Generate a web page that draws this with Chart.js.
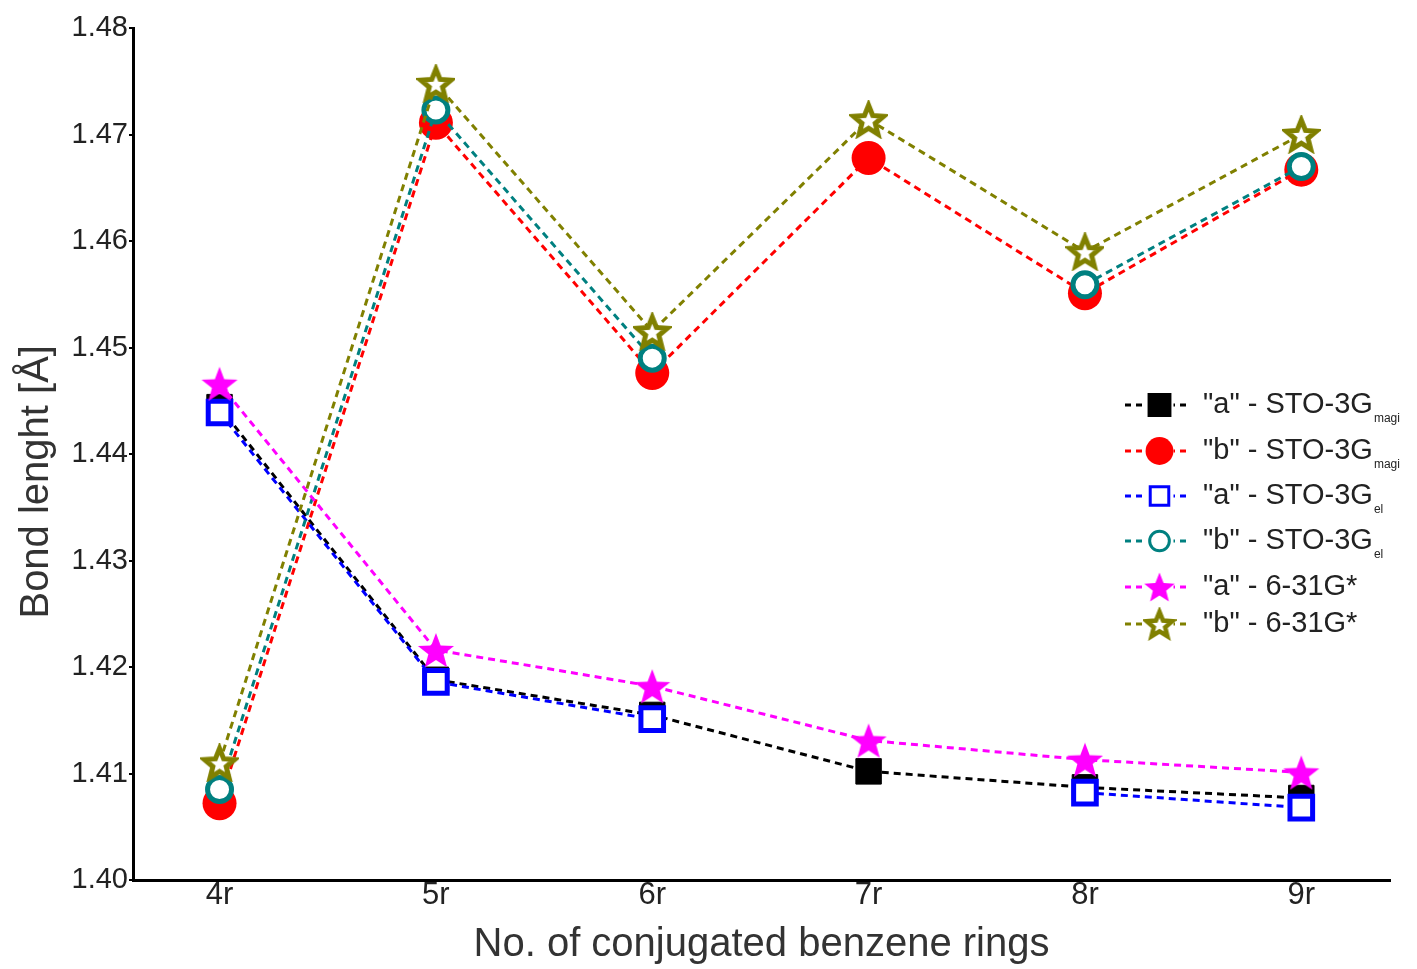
<!DOCTYPE html>
<html>
<head>
<meta charset="utf-8">
<script src="https://cdn.jsdelivr.net/npm/chart.js@4/dist/chart.umd.min.js"></script>
<style>
  html, body { margin: 0; padding: 0; background: #fff; }
  #wrap { width: 1417px; height: 969px; position: relative; }
</style>
</head>
<body>
<div id="wrap"><canvas id="chart"></canvas></div>
<script>
// x categories (number of rings)
const categories = ['4r', '5r', '6r', '7r', '8r', '9r'];
const ringCounts = [4, 5, 6, 7, 8, 9];

// bond lengths (null = no point)
const aStoMagi = [1.4444, 1.4188, 1.4155, 1.4102, 1.4087, 1.4077];
const bStoMagi = [1.4072, 1.4711, 1.4476, 1.4678, 1.4551, 1.4667];
const aStoEl   = [1.4439, 1.4186, 1.4151, null,   1.4082, 1.4068];
const bStoEl   = [1.4085, 1.4723, 1.4490, null,   1.4559, 1.4670];
const a631     = [1.4466, 1.4216, 1.4182, 1.4131, 1.4113, 1.4101];
const b631     = [1.4110, 1.4748, 1.4515, 1.4714, 1.4590, 1.4700];

const seriesNames = ['"a" - STO-3G', '"b" - STO-3G', '"a" - STO-3G', '"b" - STO-3G', '"a" - 6-31G*', '"b" - 6-31G*'];
const seriesSubs  = ['magi', 'magi', 'el', 'el', '', ''];

const yTicks = [1.40, 1.41, 1.42, 1.43, 1.44, 1.45, 1.46, 1.47, 1.48];

const FONT = "'Liberation Sans', Arial, sans-serif";

// five point star drawn into a small canvas, used as pointStyle
function makeStar(outer, inner, fill, stroke, lw) {
    const size = Math.ceil(outer * 2 + lw + 2);
    const c = document.createElement('canvas');
    c.width = size; c.height = size;
    const g = c.getContext('2d');
    g.translate(size / 2, size / 2 + outer * 0.1);
    g.beginPath();
    for (let i = 0; i < 10; i++) {
        const r = i % 2 === 0 ? outer : inner;
        const a = -Math.PI / 2 + i * Math.PI / 5;
        g.lineTo(r * Math.cos(a), r * Math.sin(a));
    }
    g.closePath();
    g.fillStyle = fill;
    g.fill();
    if (stroke) {
        g.lineWidth = lw;
        g.lineJoin = 'miter';
        g.strokeStyle = stroke;
        g.stroke();
    }
    return c;
}

const starFilled = makeStar(19, 8, '#ff00ff', null, 0);
const starOpen = makeStar(16, 7, '#ffffff', '#808000', 5);
const starFilledSmall = makeStar(16, 7, '#ff00ff', null, 0);
const starOpenSmall = makeStar(13.5, 6, '#ffffff', '#808000', 4.5);

function pts(vals) {
    return ringCounts.map((x, i) => ({ x: x, y: vals[i] }));
}

function series(vals, color, style, radius, bg, bw, order) {
    return {
        data: pts(vals),
        borderColor: color,
        backgroundColor: bg,
        borderWidth: 3,
        borderDash: [7, 5],
        pointStyle: style,
        pointRadius: radius,
        pointHoverRadius: radius,
        pointBackgroundColor: bg,
        pointBorderColor: color,
        pointBorderWidth: bw,
        spanGaps: false,
        tension: 0,
        order: order
    };
}

const datasets = [
    series(aStoMagi, '#000000', 'rect', 18, '#000000', 1, 6),
    series(bStoMagi, '#ff0000', 'circle', 17, '#ff0000', 0, 5),
    series(aStoEl, '#0000ff', 'rect', 16, '#ffffff', 5, 4),
    series(bStoEl, '#008080', 'circle', 12, '#ffffff', 5, 3),
    series(a631, '#ff00ff', starFilled, 18, '#ff00ff', 0, 2),
    series(b631, '#808000', starOpen, 18, '#ffffff', 0, 1)
];
const legendStars = [null, null, null, null, starFilledSmall, starOpenSmall];

// legend drawn inside the plot, with subscripts
const insideLegend = {
    id: 'insideLegend',
    afterDraw(chart, args, opts) {
        const ctx = chart.ctx;
        ctx.save();
        datasets.forEach((ds, i) => {
            const y = opts.rowsY[i];
            ctx.setLineDash([6, 5]);
            ctx.lineWidth = 3;
            ctx.strokeStyle = ds.borderColor;
            ctx.beginPath();
            ctx.moveTo(opts.lineX0, y);
            ctx.lineTo(opts.lineX1, y);
            ctx.stroke();
            ctx.setLineDash([]);
            const mx = (opts.lineX0 + opts.lineX1) / 2 + 2;
            // white gap behind the marker
            ctx.fillStyle = '#fff';
            ctx.fillRect(mx - 14, y - 4, 28, 8);
            if (legendStars[i]) {
                const s = legendStars[i];
                ctx.drawImage(s, mx - s.width / 2, y - s.height / 2);
            } else {
                ctx.fillStyle = ds.pointBackgroundColor;
                ctx.strokeStyle = ds.pointBorderColor;
                Chart.helpers.drawPoint(ctx, {
                    pointStyle: ds.pointStyle,
                    radius: ds.pointRadius * 0.82,
                    borderWidth: ds.pointBorderWidth,
                    rotation: 0
                }, mx, y);
            }
            ctx.fillStyle = '#222';
            ctx.textBaseline = 'middle';
            ctx.textAlign = 'left';
            ctx.font = '29px ' + FONT;
            ctx.fillText(seriesNames[i], opts.textX, y);
            if (seriesSubs[i]) {
                const w = ctx.measureText(seriesNames[i]).width;
                ctx.font = '12px ' + FONT;
                ctx.fillText(seriesSubs[i], opts.textX + w + 1, y + 14);
            }
        });
        ctx.restore();
    }
};

new Chart(document.getElementById('chart'), {
    type: 'line',
    data: { datasets: datasets },
    options: {
        responsive: true,
        maintainAspectRatio: false,
        animation: false,
        layout: { padding: { top: 28, right: 27, left: 0, bottom: 0 } },
        plugins: {
            legend: { display: false },
            tooltip: { enabled: false },
            insideLegend: { rowsY: [405, 451, 496, 541, 587, 624], lineX0: 1125, lineX1: 1190, textX: 1203 }
        },
        scales: {
            x: {
                type: 'linear',
                min: 3.6,
                max: 9.41,
                afterBuildTicks: s => { s.ticks = ringCounts.map(v => ({ value: v })); },
                afterFit: s => { s.height = 89; },
                ticks: {
                    color: '#222',
                    font: { family: FONT, size: 31, lineHeight: 1 },
                    padding: 0,
                    maxRotation: 0,
                    callback: v => categories[ringCounts.indexOf(v)]
                },
                grid: { display: false, drawTicks: false },
                border: { display: true, color: '#000', width: 3 },
                title: {
                    display: true,
                    text: 'No. of conjugated benzene rings',
                    color: '#333',
                    font: { family: FONT, size: 40 },
                    padding: { top: 0, bottom: 0 }
                }
            },
            y: {
                min: 1.40,
                max: 1.48,
                afterBuildTicks: s => { s.ticks = yTicks.map(v => ({ value: v })); },
                afterFit: s => { s.width = 133; },
                ticks: {
                    color: '#222',
                    font: { family: FONT, size: 29 },
                    padding: 1,
                    callback: v => v.toFixed(2)
                },
                grid: { drawOnChartArea: false, drawTicks: true, tickLength: 4, color: '#000', lineWidth: 2 },
                border: { display: true, color: '#000', width: 3 },
                title: {
                    display: true,
                    // trailing spaces nudge the rotated title down to where the figure has it
                    text: 'Bond lenght [Å]' + '\u00a0'.repeat(5),
                    color: '#333',
                    font: { family: FONT, size: 40 },
                    padding: { top: 13, bottom: 0 }
                }
            }
        }
    },
    plugins: [insideLegend]
});
</script>
</body>
</html>
